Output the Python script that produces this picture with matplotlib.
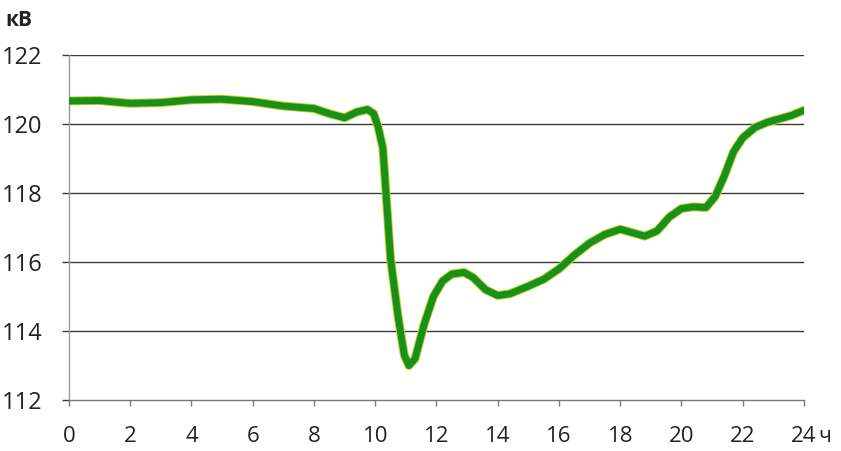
import matplotlib

matplotlib.use("Agg")
import matplotlib.pyplot as plt

# Hourly voltage profile
hours = [0, 1, 2, 3, 4, 5, 6, 7, 8, 8.5, 9, 9.4, 9.75, 9.95, 10.1, 10.25,
         10.5, 10.75, 10.95, 11.1, 11.3, 11.6, 11.9, 12.2, 12.5, 12.9, 13.2,
         13.6, 14.0, 14.4, 15.0, 15.5, 16.0, 16.5, 17.0, 17.5, 18.0, 18.4,
         18.8, 19.2, 19.6, 20.0, 20.4, 20.8, 21.1, 21.4, 21.7, 22.0, 22.4,
         22.8, 23.2, 23.6, 24.0]
voltage_kv = [120.67, 120.68, 120.6, 120.62, 120.7, 120.72, 120.65, 120.52,
              120.45, 120.3, 120.18, 120.35, 120.42, 120.3, 119.9, 119.3,
              116.1, 114.4, 113.3, 113.0, 113.2, 114.2, 115.0, 115.45, 115.65,
              115.7, 115.55, 115.2, 115.03, 115.08, 115.3, 115.5, 115.8,
              116.2, 116.55, 116.8, 116.95, 116.85, 116.75, 116.9, 117.3,
              117.55, 117.6, 117.58, 117.9, 118.5, 119.2, 119.6, 119.9,
              120.05, 120.15, 120.25, 120.4]

x_ticks = list(range(0, 25, 2))
y_ticks = [112, 114, 116, 118, 120, 122]
x_labels = [str(t) for t in x_ticks]

fig = plt.figure(figsize=(8.41, 4.51), dpi=100)
ax = fig.add_axes([0.082, 0.113, 0.874, 0.765])

for y in y_ticks[1:]:
    ax.axhline(y, color="#3a3a3a", linewidth=1.0, zorder=1)

# yellowish halo under the green line, as in the scan
ax.plot(hours, voltage_kv, color="#b5d82a", linewidth=6.4,
        solid_joinstyle="round", solid_capstyle="round", zorder=2)
ax.plot(hours, voltage_kv, color="#1a8f1a", linewidth=5.0,
        solid_joinstyle="round", solid_capstyle="round", zorder=3)

ax.set_xlim(0, 24)
ax.set_ylim(112, 122)
ax.set_xticks(x_ticks)
ax.set_xticklabels(x_labels)
ax.set_yticks(y_ticks)

for side in ("top", "right"):
    ax.spines[side].set_visible(False)
ax.spines["left"].set_color("#9a9a9a")
ax.spines["bottom"].set_color("#7a7a7a")
ax.spines["left"].set_linewidth(1.0)
ax.spines["bottom"].set_linewidth(1.0)

ax.tick_params(axis="y", length=5, width=1.0, color="#3a3a3a", pad=14,
               labelsize=17)
ax.tick_params(axis="x", length=4, width=1.0, color="#7a7a7a", pad=15,
               labelsize=16)
for lab in ax.get_xticklabels() + ax.get_yticklabels():
    lab.set_fontfamily("Open Sans")
    lab.set_color("#222222")

# hour unit after the last tick label
ax.annotate("ч", xy=(24, 112), xytext=(10, -26), textcoords="offset points",
            fontsize=15, fontfamily="Open Sans", color="#222222",
            ha="left", va="center", annotation_clip=False)
fig.text(0.006, 0.955, "кВ", fontsize=15, fontweight="bold",
         fontfamily="Open Sans", color="#222222", ha="left", va="center")

fig.savefig("out.png", dpi=100)
plt.close(fig)
